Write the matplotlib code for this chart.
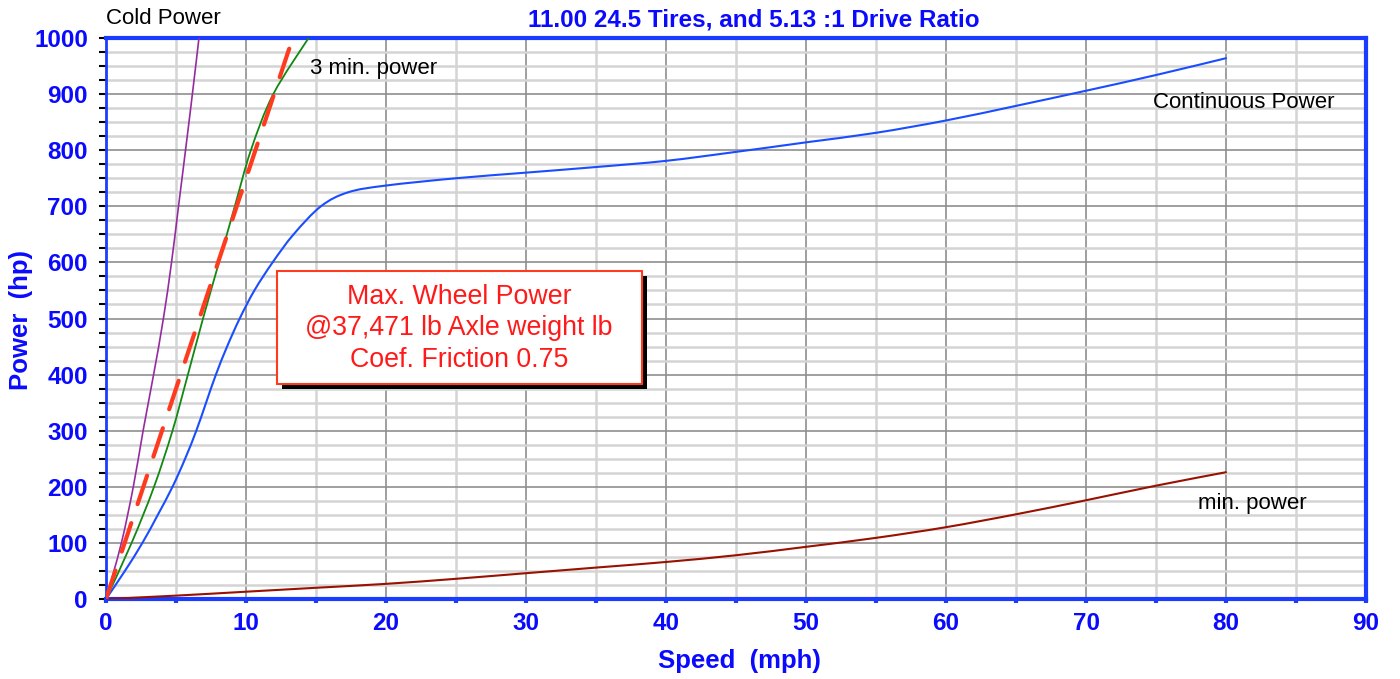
import matplotlib
matplotlib.use("Agg")
import matplotlib.pyplot as plt
import matplotlib.transforms as mtransforms
from matplotlib.patches import Rectangle, PathPatch
from matplotlib.path import Path
from matplotlib.ticker import MultipleLocator

plt.rcParams['font.family'] = ['Liberation Sans', 'DejaVu Sans']

# ---------------- data ----------------
cold_speed = [0, 1.1, 1.95, 2.65, 3.4, 4.1, 4.68, 5.18, 5.68, 6.17, 6.64]
cold_power = [0, 100, 200, 300, 400, 500, 600, 700, 800, 900, 1000]

three_min_speed = [0, 1.83, 3.43, 4.75, 5.85, 6.93, 8.07, 9.2, 10.35, 11.95, 14.47]
three_min_power = [0, 100, 200, 300, 400, 500, 600, 700, 800, 900, 1000]

cont_speed = [0, 1.35, 2.6, 3.7, 4.75, 5.65, 6.45, 7.15, 7.85, 8.65, 9.55, 10.6, 11.9, 13.4,
              15.35, 17.3, 20, 25, 30, 35, 40, 45, 50, 55, 60, 65, 70, 75, 80]
cont_power = [0, 50, 100, 150, 200, 250, 300, 350, 400, 450, 500, 550, 600, 650,
              700, 725, 737, 750, 760, 770, 781, 797, 814, 831, 853, 879, 906, 934, 964]

min_speed = [0, 5, 10, 15, 20, 25, 30, 35, 40, 45, 50, 55, 60, 65, 70, 75, 80]
min_power = [0, 6, 13, 20, 27, 36, 46, 56, 66, 78, 93, 109, 128, 151, 176, 202, 226]

wheel_speed = [0, 13.1]
wheel_power = [0, 982]

x_ticks = [0, 10, 20, 30, 40, 50, 60, 70, 80, 90]
y_ticks = [0, 100, 200, 300, 400, 500, 600, 700, 800, 900, 1000]

title_text = "11.00 24.5 Tires, and 5.13 :1 Drive Ratio"
box_lines = ["Max. Wheel Power", "@37,471 lb Axle weight lb", "Coef. Friction 0.75"]


def smooth_path(xs, ys):
    """Excel-style smoothed line: cubic Bezier segments through the data points."""
    pts = list(zip(xs, ys))
    n = len(pts)
    verts = [pts[0]]
    codes = [Path.MOVETO]
    for i in range(n - 1):
        p0 = pts[i - 1] if i > 0 else pts[i]
        p1 = pts[i]
        p2 = pts[i + 1]
        p3 = pts[i + 2] if i + 2 < n else pts[i + 1]
        c1 = (p1[0] + (p2[0] - p0[0]) / 6.0, p1[1] + (p2[1] - p0[1]) / 6.0)
        c2 = (p2[0] - (p3[0] - p1[0]) / 6.0, p2[1] - (p3[1] - p1[1]) / 6.0)
        verts += [c1, c2, p2]
        codes += [Path.CURVE4, Path.CURVE4, Path.CURVE4]
    return Path(verts, codes)


# ---------------- figure ----------------
W, H = 1400, 679
fig = plt.figure(figsize=(W / 100, H / 100), dpi=100)
x0, x1, y0, y1 = 106, 1366, 599, 38
ax = fig.add_axes([x0 / W, (H - y0) / H, (x1 - x0) / W, (y0 - y1) / H])

BLUE = '#1a3cff'
TXT_BLUE = '#0a0aff'

ax.set_xlim(0, 90)
ax.set_ylim(0, 1000)

# grid
ax.xaxis.set_major_locator(MultipleLocator(10))
ax.xaxis.set_minor_locator(MultipleLocator(5))
ax.yaxis.set_major_locator(MultipleLocator(100))
ax.yaxis.set_minor_locator(MultipleLocator(25))
ax.grid(which='minor', color='#d4d4d4', lw=1.8, zorder=0)
ax.grid(which='major', color='#8f8f8f', lw=1.2, zorder=0.5)
ax.set_axisbelow(True)

# curves
curves = [
    (min_speed, min_power, '#991100', 1.5),
    (cont_speed, cont_power, '#1a4dff', 1.5),
    (three_min_speed, three_min_power, '#118811', 1.3),
    (cold_speed, cold_power, '#962ba0', 1.2),
]
for xs, ys, col, lw in curves:
    ax.add_patch(PathPatch(smooth_path(xs, ys), fill=False, edgecolor=col,
                           lw=lw, zorder=3, capstyle='round', joinstyle='round'))
ax.plot(wheel_speed, wheel_power, color='#ff3b1f', lw=3.0, zorder=4,
        dashes=(7.2, 4.8), dash_capstyle='round')

# spines
for s in ['top', 'right', 'bottom']:
    ax.spines[s].set_color(BLUE)
    ax.spines[s].set_linewidth(3)
ax.spines['left'].set_color(BLUE)
ax.spines['left'].set_linewidth(2)

# ticks
ax.set_xticks(x_ticks)
ax.set_yticks(y_ticks)
ax.set_xticklabels([str(v) for v in x_ticks])
ax.set_yticklabels([str(v) for v in y_ticks])
ax.tick_params(axis='y', which='both', direction='out', length=5, width=1.5,
               color='black', pad=8)
ax.tick_params(axis='x', which='both', direction='out', length=3, width=3,
               color=BLUE, pad=6)
for lab in ax.get_xticklabels() + ax.get_yticklabels():
    lab.set_fontsize(17.5)
    lab.set_fontweight('bold')
    lab.set_color(TXT_BLUE)

ax.set_xlabel("Speed  (mph)", fontsize=18.5, fontweight='bold', color=TXT_BLUE)
ax.set_ylabel("Power  (hp)", fontsize=18.5, fontweight='bold', color=TXT_BLUE)
ax.xaxis.set_label_coords(0.503, -0.09)
ax.yaxis.set_label_coords(-0.058, 0.497)

fig.text(753.5 / W, (H - 26.7) / H, title_text, ha='center', va='baseline',
         fontsize=17.5, fontweight='bold', color=TXT_BLUE)

# curve labels
ax.text(0, 1025, "Cold Power", fontsize=16, color='black', va='baseline', ha='left')
ax.text(14.57, 936, "3 min. power", fontsize=16, color='black', va='baseline', ha='left')
ax.text(74.8, 875, "Continuous Power", fontsize=16, color='black', va='baseline', ha='left')
ax.text(78.0, 160, "min. power", fontsize=16, color='black', va='baseline', ha='left')

# annotation box with shadow
bx0, bx1, by0, by1 = 12.19, 38.26, 383, 585
shadow_tr = mtransforms.offset_copy(ax.transData, fig=fig, x=5, y=-5, units='dots')
ax.add_patch(Rectangle((bx0, by0), bx1 - bx0, by1 - by0, transform=shadow_tr,
                       facecolor='black', edgecolor='black', lw=0, zorder=5))
ax.add_patch(Rectangle((bx0, by0), bx1 - bx0, by1 - by0, facecolor='white',
                       edgecolor='#ff3b1f', lw=1.5, zorder=6))
for line, yy in zip(box_lines, [538.9, 483.1, 426.0]):
    ax.text((bx0 + bx1) / 2, yy, line, ha='center', va='center', fontsize=19.3,
            color='#ff1a1a', zorder=7)

fig.savefig("out.png", dpi=100)
